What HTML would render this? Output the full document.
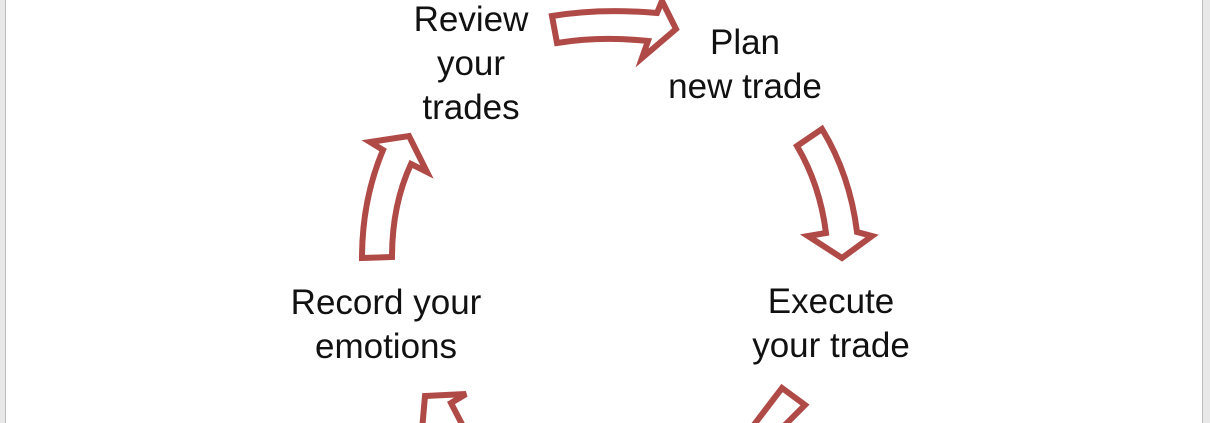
<!DOCTYPE html>
<html><head><style>
body{margin:0;width:1210px;height:423px;overflow:hidden;background:#fff;position:relative;font-family:"Liberation Sans",sans-serif}
.t{position:absolute;font-size:35px;color:#111;text-align:center;line-height:44px;width:300px}
</style></head><body>
<div style="position:absolute;left:0;top:0;width:5px;height:423px;background:#e8e8e8;border-right:1px solid #bdbdbd"></div>
<div style="position:absolute;left:1202px;top:0;width:8px;height:423px;background:#e8e8e8;border-left:1px solid #bdbdbd"></div>
<div class="t" style="left:321px;top:-2px">Review<br>your<br>trades</div>
<div class="t" style="left:595px;top:21px">Plan<br>new trade</div>
<div class="t" style="left:681px;top:280px">Execute<br>your trade</div>
<div class="t" style="left:236px;top:281px">Record your<br>emotions</div>
<svg width="1210" height="423" style="position:absolute;left:0;top:0">
<g fill="#fff" stroke="#b04a47" stroke-width="6" stroke-linejoin="miter">
<path d="M552,16 Q600,8 657,13 L662,1 L676,29 L642,58 L648,41 Q600,36 557,43 Z"/>
<path d="M797,146 L822,129 Q850,175 857,232 L872,236 L842,258 L808,236 L826,233 Q820,185 797,146 Z"/>
<path d="M362,258 L392,257 Q392,205 411,164 L427,172 L409,136 L370,142 L383,150 Q362,200 362,258 Z"/>
<path d="M425,396 L466,394 L451,403 L465,430 L430,430 L422,430 Z"/>
<path d="M782,388 L805,405 L780,430 L750,430 Z"/>
</g>
</svg>
</body></html>
